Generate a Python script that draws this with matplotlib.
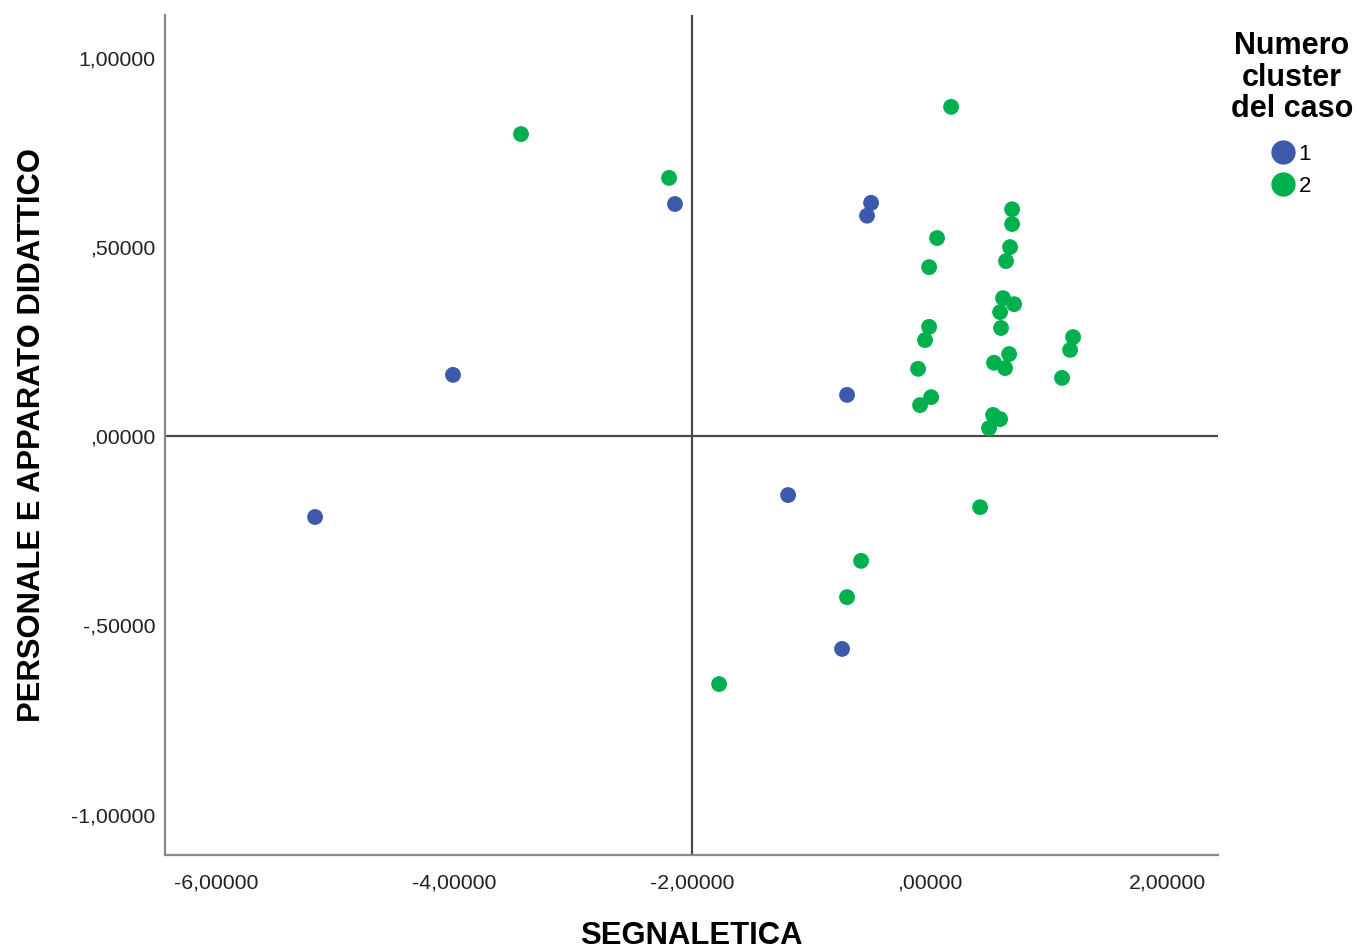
import matplotlib
matplotlib.use("Agg")
import matplotlib.pyplot as plt
from matplotlib.lines import Line2D
from matplotlib.ticker import FuncFormatter

plt.rcParams['font.family'] = ['Liberation Sans', 'DejaVu Sans']

# Cluster 1 (blue)
c1_x = [-5.168, -4.008, -2.141, -0.492, -0.526, -0.694, -1.190, -0.736]
c1_y = [-0.213, 0.163, 0.615, 0.618, 0.584, 0.110, -0.155, -0.562]

# Cluster 2 (green)
c2_x = [-3.436, -2.191, 0.181, 0.063, -0.004, 0.694, 0.694, 0.677, 0.643,
        0.618, 0.711, 0.593, 0.601, -0.004, -0.038, -0.097, 0.013, -0.080,
        0.669, 0.542, 0.635, 1.207, 1.182, 1.114, 0.534, 0.593, 0.500,
        0.425, -0.576, -0.694, -1.770]
c2_y = [0.800, 0.684, 0.872, 0.525, 0.448, 0.601, 0.562, 0.501, 0.464,
        0.366, 0.350, 0.329, 0.287, 0.290, 0.255, 0.179, 0.104, 0.083,
        0.218, 0.195, 0.181, 0.263, 0.229, 0.155, 0.057, 0.046, 0.022,
        -0.187, -0.329, -0.425, -0.655]

x_ticks = [-6, -4, -2, 0, 2]
y_ticks = [-1.0, -0.5, 0.0, 0.5, 1.0]
ref_x = -2.0
ref_y = 0.0
cluster_labels = ['1', '2']

blue = '#3e58ac'
green = '#00b04f'

fig = plt.figure(figsize=(13.57, 9.49), dpi=100)
ax = fig.add_axes([0.1216, 0.0991, 0.7760, 0.8851])

ax.axvline(ref_x, color='#4a4a4a', lw=1.6, zorder=1)
ax.axhline(ref_y, color='#4a4a4a', lw=1.6, zorder=1)

ax.scatter(c1_x, c1_y, s=130, color=blue, edgecolors='none', zorder=3)
ax.scatter(c2_x, c2_y, s=130, color=green, edgecolors='none', zorder=3)

ax.set_xlim(-6.43, 2.426)
ax.set_ylim(-1.107, 1.115)
ax.set_xticks(x_ticks)
ax.set_yticks(y_ticks)

def fmt(v, pos):
    s = f"{v:.5f}".replace('.', ',')
    if s.startswith('0,'):
        s = s[1:]
    elif s.startswith('-0,'):
        s = '-' + s[2:]
    return s

ax.xaxis.set_major_formatter(FuncFormatter(fmt))
ax.yaxis.set_major_formatter(FuncFormatter(fmt))
ax.tick_params(length=0, labelsize=15.3, colors='#222222')
ax.tick_params(axis='x', pad=13)
ax.tick_params(axis='y', pad=7)

for sp in ['top', 'right']:
    ax.spines[sp].set_visible(False)
for sp in ['left', 'bottom']:
    ax.spines[sp].set_color('#888888')
    ax.spines[sp].set_linewidth(1.6)

ax.set_xlabel('SEGNALETICA', fontsize=22.3, fontweight='bold', labelpad=21)
ax.set_ylabel('PERSONALE E APPARATO DIDATTICO', fontsize=22.3, fontweight='bold')
ax.yaxis.set_label_coords(-0.112, 0.5)

fig.text(0.952, 0.967, 'Numero\ncluster\ndel caso', ha='center', va='top',
         multialignment='center', fontsize=22, fontweight='bold', linespacing=1.06)

handles = [Line2D([], [], marker='o', ls='none', color=blue, markersize=16.5, label=cluster_labels[0]),
           Line2D([], [], marker='o', ls='none', color=green, markersize=16.5, label=cluster_labels[1])]
leg = fig.legend(handles=handles, loc='center', bbox_to_anchor=(0.950, 0.8205),
                 frameon=False, fontsize=16, handletextpad=0.0, labelspacing=0.52,
                 borderaxespad=0, handlelength=1.4)

fig.savefig('out.png', dpi=100, facecolor='white')
